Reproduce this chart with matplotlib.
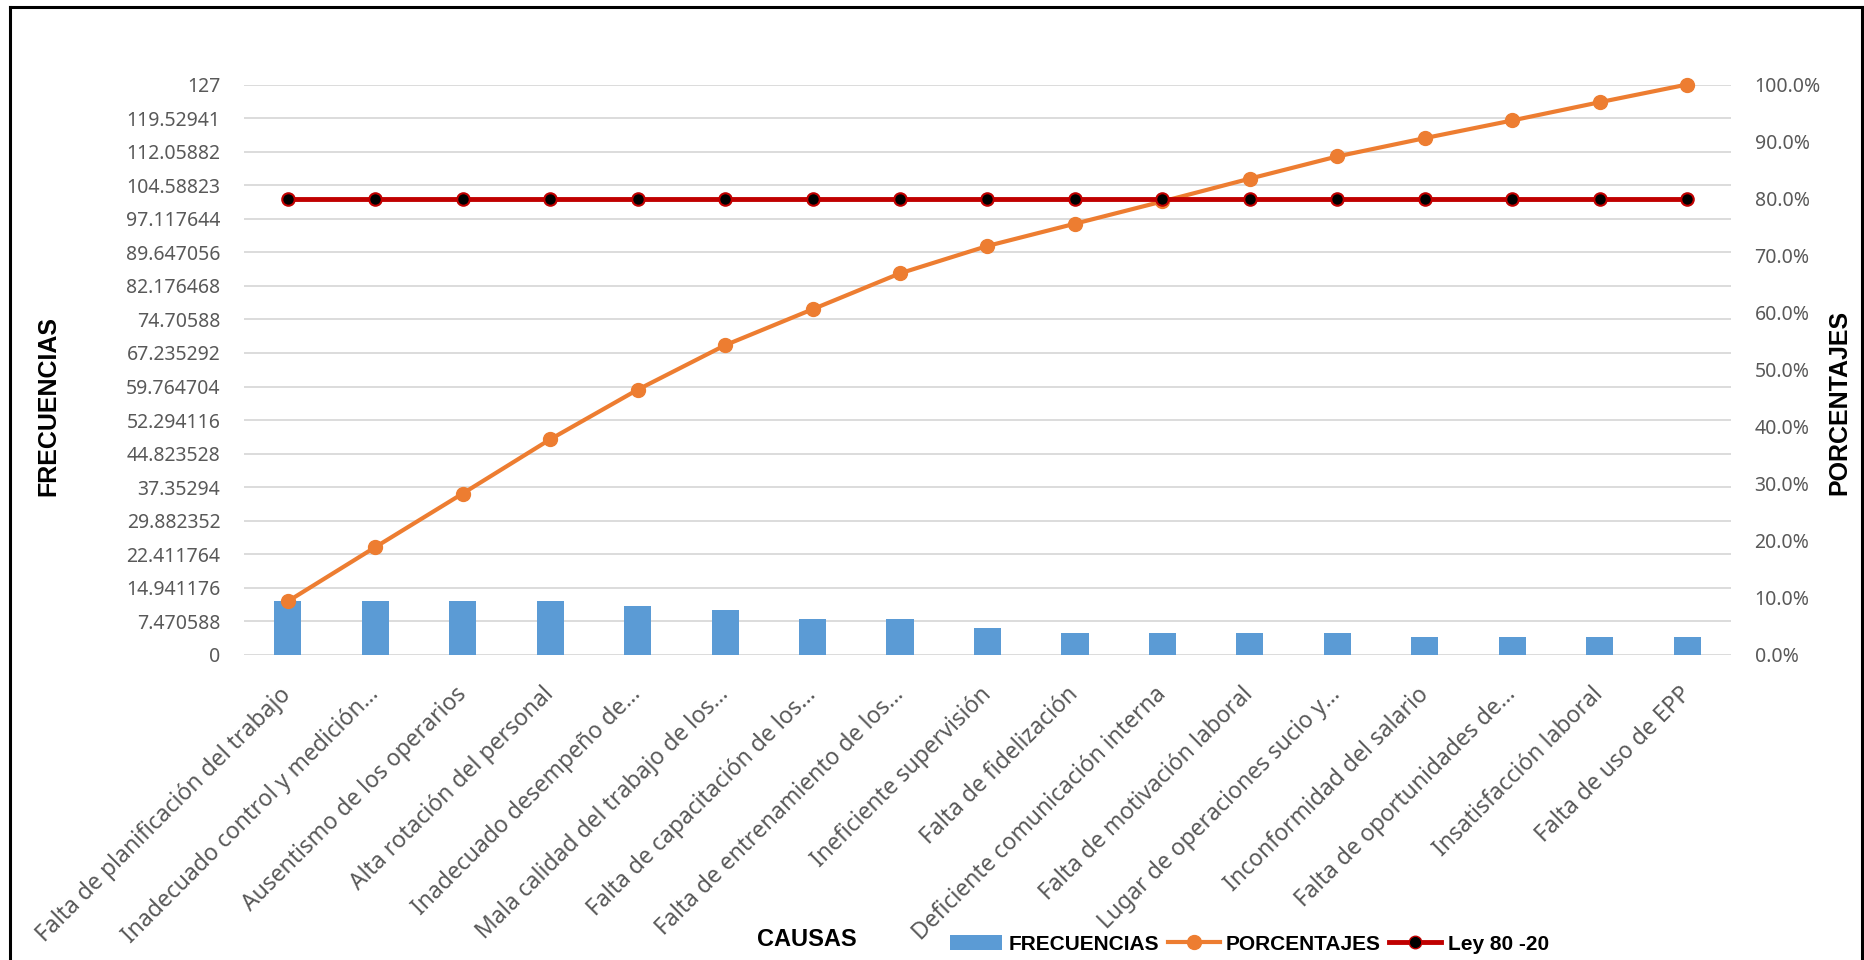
import matplotlib
matplotlib.use('Agg')
import matplotlib.pyplot as plt
from matplotlib.lines import Line2D
from matplotlib.patches import Patch

# datos del diagrama de Pareto
causas = ['Falta de planificación del trabajo',
          'Inadecuado control y medición…',
          'Ausentismo de los operarios',
          'Alta rotación del personal',
          'Inadecuado desempeño de…',
          'Mala calidad del trabajo de los…',
          'Falta de capacitación de los…',
          'Falta de entrenamiento de los…',
          'Ineficiente supervisión',
          'Falta de fidelización',
          'Deficiente comunicación interna',
          'Falta de motivación laboral',
          'Lugar de operaciones sucio y…',
          'Inconformidad del salario',
          'Falta de oportunidades de…',
          'Insatisfacción laboral',
          'Falta de uso de EPP']
frecuencias = [12, 12, 12, 12, 11, 10, 8, 8, 6, 5, 5, 5, 5, 4, 4, 4, 4]
porcentajes = [9.4, 18.9, 28.3, 37.8, 46.5, 54.3, 60.6, 66.9, 71.7,
               75.6, 79.5, 83.5, 87.4, 90.6, 93.7, 96.9, 100.0]
ley = [80, 80, 80, 80, 80, 80, 80, 80, 80, 80, 80, 80, 80, 80, 80, 80, 80]

yticks_izq = ['0', '7.470588', '14.941176', '22.411764', '29.882352',
              '37.35294', '44.823528', '52.294116', '59.764704', '67.235292',
              '74.70588', '82.176468', '89.647056', '97.117644', '104.58823',
              '112.05882', '119.52941', '127']
yticks_der = [0, 10, 20, 30, 40, 50, 60, 70, 80, 90, 100]

azul = '#5B9BD5'
naranja = '#ED7D31'
rojo = '#C00000'
gris = '#595959'

plt.rcParams['font.family'] = ['Noto Sans', 'DejaVu Sans']
negrita = ['Liberation Sans', 'DejaVu Sans']

W, H = 1865, 960
fig = plt.figure(figsize=(W/100, H/100), dpi=100)
ax = fig.add_axes([244/W, 1-655/H, (1731-244)/W, (655-84.5)/H])
ax2 = ax.twinx()

x = list(range(len(causas)))
ax.bar(x, frecuencias, width=0.31, color=azul, zorder=3)
ax.set_ylim(0, 127)
ax.set_xlim(-0.5, len(causas)-0.5)
ax.set_yticks([float(t) for t in yticks_izq])
ax.set_yticklabels(yticks_izq)
ax.grid(axis='y', color='#D9D9D9', linewidth=1.3, zorder=0)
ax.set_axisbelow(True)
ax.set_xticks(x)
ax.set_xticklabels(causas, rotation=45, ha='right', va='center',
                   rotation_mode='anchor', fontsize=16.5, color=gris)
ax.tick_params(axis='x', length=0, pad=26)
ax.tick_params(axis='y', length=0, pad=17, labelsize=14, labelcolor=gris)

ax2.plot(x, porcentajes, color=naranja, linewidth=3, marker='o',
         markersize=10, zorder=4, clip_on=False)
ax2.plot(x, ley, color=rojo, linewidth=3.5, marker='o', markersize=9,
         markerfacecolor='black', markeredgecolor=rojo, markeredgewidth=1.5,
         zorder=5, clip_on=False)
ax2.set_ylim(0, 100)
ax2.set_yticks(yticks_der)
ax2.set_yticklabels(['{:.1f}%'.format(v) for v in yticks_der])
ax2.tick_params(axis='y', length=0, pad=17, labelsize=14, labelcolor=gris)

for a in (ax, ax2):
    for s in a.spines.values():
        s.set_visible(False)

fig.text(48/W, 1-406/H, 'FRECUENCIAS', rotation=90, ha='center', va='center',
         fontsize=18, fontweight='bold', family=negrita)
fig.text(1839/W, 1-402/H, 'PORCENTAJES', rotation=90, ha='center', va='center',
         fontsize=18, fontweight='bold', family=negrita)
fig.text(807/W, 1-940/H, 'CAUSAS', ha='center', va='center',
         fontsize=17, fontweight='bold', family=negrita)

handles = [Patch(facecolor=azul),
           Line2D([], [], color=naranja, linewidth=3, marker='o', markersize=10),
           Line2D([], [], color=rojo, linewidth=3.5, marker='o', markersize=9,
                  markerfacecolor='black', markeredgecolor=rojo)]
fig.legend(handles, ['FRECUENCIAS', 'PORCENTAJES', 'Ley 80 -20'],
           loc='center left', bbox_to_anchor=(940/W, 1-944/H), ncol=3,
           frameon=False, borderpad=0, handlelength=2.5, handletextpad=0.3,
           columnspacing=0.4, prop={'family': negrita, 'weight': 'bold', 'size': 15})

# marco del grafico
marco = dict(color='black', linewidth=2.2, transform=fig.transFigure)
fig.add_artist(Line2D([10/W, 10/W], [-0.05, 1-7/H], **marco))
fig.add_artist(Line2D([10/W, 1862/W], [1-7/H, 1-7/H], **marco))
fig.add_artist(Line2D([1862/W, 1862/W], [-0.05, 1-7/H], **marco))

fig.savefig('out.png', dpi=100)
